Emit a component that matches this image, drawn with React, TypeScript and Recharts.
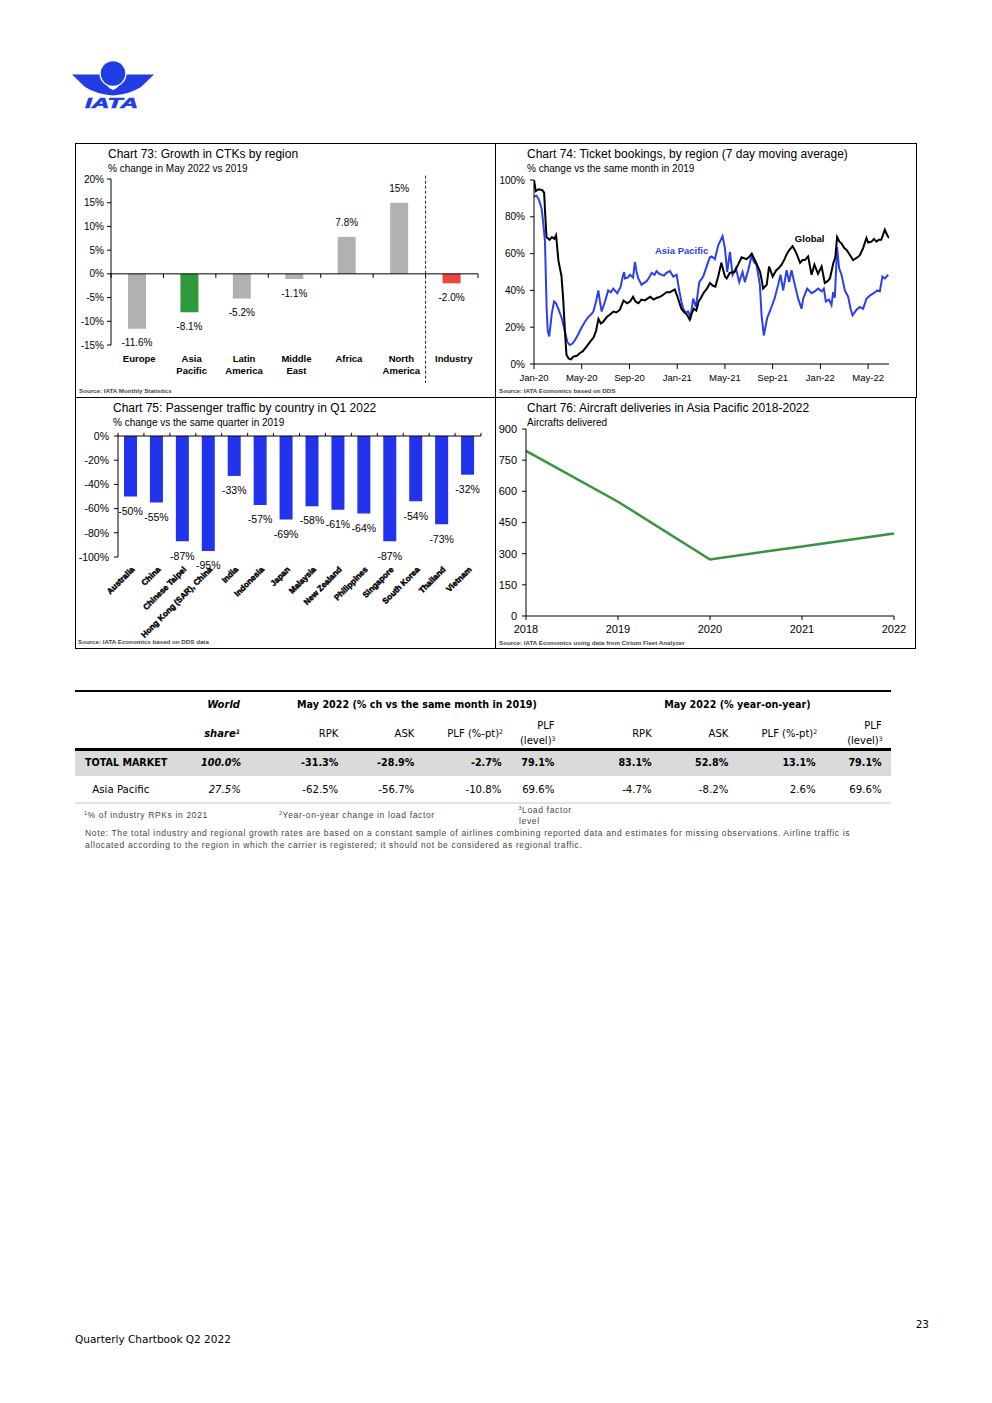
import React from 'react';
import {
  BarChart, Bar, XAxis, YAxis, Cell, LabelList, ReferenceLine, ReferenceDot, LineChart, Line,
} from 'recharts';

const SANS = '"Liberation Sans", Arial, Helvetica, sans-serif';
const DEJAVU = '"DejaVu Sans", Verdana, sans-serif';

// ---------- Chart 73: Growth in CTKs by region ----------
const ctkRegions = ['Europe', 'Asia Pacific', 'Latin America', 'Middle East', 'Africa', 'North America', 'Industry'];
const ctkGrowth = [-11.6, -8.1, -5.2, -1.1, 7.8, 15, -2.0];
const ctkLabels = ['-11.6%', '-8.1%', '-5.2%', '-1.1%', '7.8%', '15%', '-2.0%'];
const ctkTicks = [-15, -10, -5, 0, 5, 10, 15, 20];
const ctkColors = ['#b1b1b1', '#2e9a3c', '#b1b1b1', '#b1b1b1', '#b1b1b1', '#b1b1b1', '#e8473d'];

// ---------- Chart 74: Ticket bookings (months since Jan-20, % vs 2019) ----------
const bookingMonthTicks = [0, 4, 8, 12, 16, 20, 24, 28];
const bookingMonthLabels = ['Jan-20', 'May-20', 'Sep-20', 'Jan-21', 'May-21', 'Sep-21', 'Jan-22', 'May-22'];
const bookingTicks = [0, 20, 40, 60, 80, 100];
const globalBookings: [number, number][] = [
  [0, 100], [0.15, 94], [0.4, 95], [0.7, 94.5], [0.85, 93], [0.95, 80], [1.05, 69], [1.3, 67.5], [1.5, 69],
  [1.7, 68], [1.85, 70], [2.05, 56], [2.3, 48], [2.45, 35], [2.6, 17], [2.72, 5], [2.9, 3], [3.1, 2.5],
  [3.3, 4], [3.6, 4.5], [3.85, 6], [4.1, 7], [4.4, 9.5], [4.7, 12], [5.0, 14.5], [5.2, 18], [5.4, 24.5],
  [5.6, 22], [5.8, 23], [6.1, 25.5], [6.4, 27], [6.65, 28.5], [6.9, 28], [7.2, 29.5], [7.5, 34.5], [7.8, 33],
  [8.05, 34], [8.3, 36.5], [8.5, 34], [8.75, 33], [9.0, 35], [9.3, 34.5], [9.5, 35.5], [9.75, 36.5], [10.0, 35],
  [10.3, 36], [10.55, 36.5], [10.8, 37.5], [11.1, 39], [11.4, 39], [11.8, 40.5], [12.05, 36], [12.35, 30],
  [12.6, 28], [12.8, 27], [13.05, 24], [13.25, 28], [13.4, 30], [13.6, 29], [13.8, 34], [14.0, 36], [14.2, 38.5],
  [14.5, 41], [14.75, 44], [15.0, 42.5], [15.2, 42], [15.45, 48], [15.7, 55], [16.0, 47.5], [16.15, 46.5],
  [16.4, 49.5], [16.8, 50], [17.1, 54], [17.4, 58], [17.8, 57], [18.0, 58], [18.25, 60], [18.5, 56.5],
  [18.75, 53], [18.95, 50], [19.1, 45], [19.2, 41], [19.5, 43], [19.7, 53], [20.0, 47.5], [20.3, 51], [20.5, 52],
  [20.75, 54], [21.0, 57], [21.2, 60], [21.4, 62], [21.67, 64], [21.85, 62], [22.0, 60], [22.3, 55], [22.5, 56.5],
  [22.7, 56.5], [22.97, 58.5], [23.26, 48.5], [23.5, 54], [23.8, 49], [24.1, 53], [24.37, 44], [24.6, 45],
  [24.8, 46.5], [25.07, 54.5], [25.25, 58], [25.4, 69], [25.6, 66.5], [25.77, 65.5], [26.0, 63], [26.2, 62],
  [26.5, 59], [26.74, 56.5], [27.0, 57.5], [27.3, 59], [27.58, 63], [27.86, 68.5], [28.0, 66], [28.28, 66.5],
  [28.5, 68], [28.7, 66.5], [28.9, 67.5], [29.1, 67.5], [29.4, 73], [29.6, 70], [29.75, 68.5],
];
const asiaPacificBookings: [number, number][] = [
  [0, 91], [0.2, 91.5], [0.4, 89.5], [0.64, 84.5], [0.8, 75], [0.92, 66.5], [1.06, 30], [1.15, 18], [1.28, 15],
  [1.48, 27], [1.68, 34], [1.85, 33], [2.04, 30], [2.32, 25], [2.6, 17.5], [2.79, 12], [3.0, 10.3], [3.2, 11],
  [3.43, 13], [3.7, 16], [4.0, 20], [4.27, 23], [4.55, 25.5], [4.8, 27], [4.97, 28.5], [5.2, 34], [5.39, 40],
  [5.55, 33], [5.67, 28.5], [5.95, 34], [6.22, 40], [6.45, 39], [6.64, 41], [6.98, 38.5], [7.26, 42], [7.45, 48],
  [7.56, 50], [7.62, 46.5], [7.85, 47], [8.04, 48.5], [8.3, 47], [8.46, 55.5], [8.6, 50], [8.74, 46.5], [9.02, 43],
  [9.2, 44], [9.44, 45], [9.65, 47], [9.86, 49.5], [10.1, 48.5], [10.27, 50.5], [10.5, 49], [10.69, 48.5],
  [10.9, 48], [11.1, 49.5], [11.39, 50.5], [11.67, 47.5], [11.95, 48.5], [12.17, 40], [12.35, 34], [12.5, 30],
  [12.7, 28], [12.92, 28.5], [13.12, 25.5], [13.34, 35.5], [13.57, 31], [13.85, 44.5], [14.18, 47.5], [14.52, 54],
  [14.74, 58], [14.89, 58.5], [15.16, 57], [15.44, 64.5], [15.8, 69.5], [16.0, 63], [16.19, 50], [16.42, 61],
  [16.64, 48.5], [16.92, 52], [17.2, 44.5], [17.48, 50], [17.67, 44.5], [17.95, 51], [18.24, 59], [18.43, 55.5],
  [18.65, 54], [18.93, 43], [19.07, 26.5], [19.26, 15.5], [19.54, 25], [19.82, 29.5], [20.18, 36], [20.46, 43],
  [20.66, 48.5], [20.88, 40], [21.17, 51], [21.38, 44.5], [21.58, 51], [21.86, 43], [22.14, 35.5], [22.42, 30],
  [22.56, 35.5], [22.89, 41], [23.26, 38.5], [23.53, 39.5], [23.81, 41], [24.1, 39.5], [24.29, 41], [24.46, 34],
  [24.73, 35], [24.93, 32], [25.07, 39], [25.21, 36], [25.4, 63.5], [25.57, 52], [25.77, 48.5], [26.05, 40],
  [26.33, 36.5], [26.53, 30], [26.7, 26.5], [27.03, 29.5], [27.3, 31], [27.58, 30], [27.86, 35.5], [28.2, 37.5],
  [28.48, 38.5], [28.76, 40], [28.98, 39.5], [29.2, 47.5], [29.4, 46.5], [29.68, 48.5],
];
const bookingSeriesNames = ['Asia Pacific', 'Global'];
const bookingNameAnchors: [number, number][] = [[12.37, 61.6], [23.1, 67.9]];

// ---------- Chart 75: Passenger traffic by country ----------
const countries = ['Australia', 'China', 'Chinese Taipei', 'Hong Kong (SAR), China', 'India', 'Indonesia', 'Japan',
  'Malaysia', 'New Zealand', 'Philippines', 'Singapore', 'South Korea', 'Thailand', 'Vietnam'];
const countryChange = [-50, -55, -87, -95, -33, -57, -69, -58, -61, -64, -87, -54, -73, -32];
const countryLabels = ['-50%', '-55%', '-87%', '-95%', '-33%', '-57%', '-69%', '-58%', '-61%', '-64%', '-87%', '-54%', '-73%', '-32%'];
const countryTicks = [-100, -80, -60, -40, -20, 0];

// ---------- Chart 76: Aircraft deliveries ----------
const deliveryYears = ['2018', '2019', '2020', '2021', '2022'];
const deliveries = [795, 550, 272, 335, 397];
const deliveryTicks = [0, 150, 300, 450, 600, 750, 900];

// ---------- Table ----------
const tableRegions = ['TOTAL MARKET', 'Asia Pacific'];
const worldShare = ['100.0%', '27.5%'];
const vs2019 = [['-31.3%', '-28.9%', '-2.7%', '79.1%'], ['-62.5%', '-56.7%', '-10.8%', '69.6%']];
const yearOnYear = [['83.1%', '52.8%', '13.1%', '79.1%'], ['-4.7%', '-8.2%', '2.6%', '69.6%']];

// ---------- helpers ----------
type TxtProps = {
  x: number; y: number; fs: number; children: React.ReactNode; align?: 'left' | 'right' | 'center';
  bold?: boolean; italic?: boolean; color?: string; font?: string; ls?: number;
};
const Txt = ({ x, y, fs, children, align = 'left', bold, italic, color = '#000', font = SANS, ls }: TxtProps) => {
  const style: React.CSSProperties = {
    position: 'absolute', top: y - 0.49 * fs, fontSize: fs, lineHeight: `${fs}px`, whiteSpace: 'nowrap',
    fontFamily: font, fontWeight: bold ? 700 : 400, fontStyle: italic ? 'italic' : 'normal', color,
    letterSpacing: ls,
  };
  if (align === 'left') style.left = x;
  else if (align === 'right') style.right = 992 - x;
  else { style.left = x; style.transform = 'translateX(-50%)'; }
  return <div style={style}>{children}</div>;
};
const Sup = ({ children }: { children: React.ReactNode }) => (
  <span style={{ fontSize: '0.62em', verticalAlign: '0.5em', lineHeight: 0 }}>{children}</span>
);

const makeEndLabel = (fontSize: number, gap: number) => (props: any) => {
  const vb = props.viewBox && props.viewBox.width !== undefined ? props.viewBox : props;
  const x = Number(vb.x), y = Number(vb.y), w = Number(vb.width), h = Number(vb.height);
  const text = String(props.value);
  const neg = text.startsWith('-');
  const top = Math.min(y, y + h);
  const bottom = Math.max(y, y + h);
  const cy = neg ? bottom + gap : top - gap;
  return (
    <text x={x + w / 2} y={cy} dy="0.36em" textAnchor="middle" fontSize={fontSize} fill="#000" fontFamily={SANS}>
      {text}
    </text>
  );
};

const RegionTick = (props: any) => {
  const { x, y, payload } = props;
  const words = String(payload.value).split(' ');
  return (
    <text x={x} y={y} textAnchor="middle" fontSize={9.5} fontWeight={700} fill="#000" fontFamily={SANS}>
      {words.map((w, i) => (
        <tspan key={i} x={x + 2} dy={i === 0 ? 16.5 : 12.7}>{w}</tspan>
      ))}
    </text>
  );
};

const CountryTick = (props: any) => {
  const { x, y, payload } = props;
  return (
    <text x={0} y={0} transform={`translate(${x + 4},${y + 13}) rotate(-45)`} textAnchor="end"
      fontSize={8.2} fontWeight={700} fill="#000" stroke="#000" strokeWidth={0.45} fontFamily={SANS}>
      {payload.value}
    </text>
  );
};

const axisTick = (fs: number) => ({ fontSize: fs, fill: '#000', fontFamily: SANS });

// ---------- charts ----------
function Chart73() {
  const data = ctkRegions.map((r, i) => ({ region: r, value: ctkGrowth[i], label: ctkLabels[i] }));
  const last = ctkRegions[ctkRegions.length - 1];
  return (
    <BarChart width={420} height={254} data={data} margin={{ top: 36, right: 17, bottom: 22, left: 0 }}>
      <YAxis domain={[-15, 20]} ticks={ctkTicks} interval={0} tickFormatter={(v) => `${v}%`} width={36}
        stroke="#000" tickSize={4} tickMargin={3} tick={axisTick(10)} />
      <XAxis dataKey="region" axisLine={false} tickLine={false} tickSize={0} tickMargin={0} height={30}
        interval={0} tick={<RegionTick />} />
      <Bar dataKey="value" barSize={18} isAnimationActive={false}>
        {data.map((d, i) => <Cell key={d.region} fill={ctkColors[i]} />)}
        <LabelList dataKey="label" content={makeEndLabel(10, 14)} />
      </Bar>
      <ReferenceLine y={0} stroke="#000" strokeWidth={1} />
      {ctkRegions.map((c) => (
        <ReferenceLine key={c} segment={[{ x: c, y: 0 }, { x: c, y: -0.85 }]} position="start"
          ifOverflow="visible" stroke="#000" />
      ))}
      <ReferenceLine segment={[{ x: last, y: 0 }, { x: last, y: -0.85 }]} position="end"
        ifOverflow="visible" stroke="#000" />
      <ReferenceLine segment={[{ x: last, y: 20.7 }, { x: last, y: -23 }]} position="start"
        ifOverflow="visible" stroke="#222" strokeDasharray="3 2" />
    </BarChart>
  );
}

function Chart74() {
  const globalData = globalBookings.map(([m, v]) => ({ m, v }));
  const apData = asiaPacificBookings.map(([m, v]) => ({ m, v }));
  const colors = ['#2b3ff0', '#000'];
  return (
    <LineChart width={421} height={254} margin={{ top: 37, right: 27, bottom: 13, left: 0 }}>
      <XAxis dataKey="m" type="number" domain={[0, 29.75]} allowDataOverflow ticks={bookingMonthTicks} interval={0}
        tickFormatter={(v) => bookingMonthLabels[bookingMonthTicks.indexOf(v)]} height={20}
        stroke="#000" tickSize={5} tickMargin={5} tick={axisTick(9.5)} />
      <YAxis domain={[0, 100]} ticks={bookingTicks} interval={0} tickFormatter={(v) => `${v}%`} width={39}
        stroke="#000" tickSize={4} tickMargin={5} tick={axisTick(10)} />
      <Line data={apData} dataKey="v" stroke={colors[0]} strokeWidth={2} dot={false} isAnimationActive={false} />
      <Line data={globalData} dataKey="v" stroke={colors[1]} strokeWidth={2} dot={false} isAnimationActive={false} />
      {bookingSeriesNames.map((n, i) => (
        <ReferenceDot key={n} x={bookingNameAnchors[i][0]} y={bookingNameAnchors[i][1]} r={0} fill="none" stroke="none"
          ifOverflow="visible"
          label={{ value: n, position: 'center', fill: colors[i], fontSize: 9.5, fontWeight: 700, fontFamily: SANS }} />
      ))}
    </LineChart>
  );
}

function Chart75() {
  const data = countries.map((c, i) => ({ country: c, value: countryChange[i], label: countryLabels[i] }));
  const last = countries[countries.length - 1];
  return (
    <BarChart width={420} height={252} data={data} margin={{ top: 39, right: 14, bottom: 12, left: 0 }}>
      <YAxis domain={[-100, 0]} ticks={countryTicks} interval={0} tickFormatter={(v) => `${v}%`} width={43}
        stroke="#000" tickSize={4} tickMargin={5} tick={axisTick(10.5)} />
      <XAxis dataKey="country" axisLine={false} tickLine={false} tickSize={0} tickMargin={0} height={80}
        interval={0} tick={<CountryTick />} />
      <Bar dataKey="value" barSize={13} fill="#2233ee" isAnimationActive={false}>
        <LabelList dataKey="label" content={makeEndLabel(10.5, 14.5)} />
      </Bar>
      <ReferenceLine y={0} stroke="#000" />
      {countries.map((c) => (
        <ReferenceLine key={c} segment={[{ x: c, y: 0 }, { x: c, y: 2.6 }]} position="start"
          ifOverflow="visible" stroke="#000" />
      ))}
      <ReferenceLine segment={[{ x: last, y: 0 }, { x: last, y: 2.6 }]} position="end"
        ifOverflow="visible" stroke="#000" />
    </BarChart>
  );
}

function Chart76() {
  const data = deliveryYears.map((y, i) => ({ year: y, value: deliveries[i] }));
  return (
    <LineChart width={420} height={252} data={data} margin={{ top: 32, right: 21, bottom: 13, left: 0 }}>
      <XAxis dataKey="year" height={20} interval={0} stroke="#000" tickSize={4} tickMargin={5} tick={axisTick(11)} />
      <YAxis domain={[0, 900]} ticks={deliveryTicks} interval={0} width={31} stroke="#000" tickSize={4}
        tickMargin={5} tick={axisTick(11)} />
      <Line dataKey="value" stroke="#35943d" strokeWidth={2.5} dot={false} isAnimationActive={false} />
    </LineChart>
  );
}

function Logo() {
  const blue = '#1f3ce6';
  return (
    <svg style={{ position: 'absolute', left: 60, top: 50 }} width={110} height={70} viewBox="60 50 110 70">
      <path d="M72,74.5 L103,74.5 Q105,88 113,90 L113,95.5 Q97,94.5 85,87 Z" fill={blue} />
      <path d="M154,74.5 L123,74.5 Q121,88 113,90 L113,95.5 Q129,94.5 141,87 Z" fill={blue} />
      <circle cx={113} cy={73.5} r={13.6} fill="#fff" />
      <circle cx={113} cy={73.5} r={12.2} fill={blue} />
      <text x={85} y={107.5} textLength={53} lengthAdjust="spacingAndGlyphs" fontFamily={SANS} fontWeight={900}
        fontStyle="italic" fontSize={15} fill={blue} stroke={blue} strokeWidth={0.6}>IATA</text>
    </svg>
  );
}

const Abs = ({ l, t, children }: { l: number; t: number; children: React.ReactNode }) => (
  <div style={{ position: 'absolute', left: l, top: t }}>{children}</div>
);

const Box = ({ l, t, w, h }: { l: number; t: number; w: number; h: number }) => (
  <div style={{ position: 'absolute', left: l, top: t, width: w, height: h, boxSizing: 'border-box', border: '1px solid #000', pointerEvents: 'none' }} />
);

const Rule = ({ t, h, color }: { t: number; h: number; color: string }) => (
  <div style={{ position: 'absolute', left: 75, top: t, width: 816, height: h, background: color }} />
);

export default function App() {
  const c2019 = [338.3, 414.3, 501.5, 554.5];
  const cYoy = [651.7, 728.3, 815.7, 881.7];
  const rowY = [763, 789.7];
  const TF = DEJAVU;
  const noteFs = 8.5;
  const noteLs = 0.65;
  return (
    <div style={{ position: 'absolute', left: 0, top: 0, width: 992, height: 1403, background: '#fff', overflow: 'hidden', fontFamily: SANS }}>
      <Logo />

      <Abs l={75} t={143}><Chart73 /></Abs>
      <Abs l={495} t={143}><Chart74 /></Abs>
      <Abs l={75} t={397}><Chart75 /></Abs>
      <Abs l={495} t={397}><Chart76 /></Abs>

      <Box l={75} t={143} w={421} h={255} />
      <Box l={495} t={143} w={422} h={255} />
      <Box l={75} t={397} w={421} h={252} />
      <Box l={495} t={397} w={421} h={252} />

      <Txt x={108} y={154} fs={12}>Chart 73: Growth in CTKs by region</Txt>
      <Txt x={108} y={168.7} fs={10}>% change in May 2022 vs 2019</Txt>
      <Txt x={79} y={391.3} fs={6.2} bold color="#444">Source: IATA Monthly Statistics</Txt>

      <Txt x={527} y={154} fs={12}>Chart 74: Ticket bookings, by region (7 day moving average)</Txt>
      <Txt x={527} y={169} fs={10}>% change vs the same month in 2019</Txt>
      <Txt x={499} y={391.3} fs={6.2} bold color="#444">Source: IATA Economics based on DDS</Txt>

      <Txt x={113} y={408} fs={12}>Chart 75: Passenger traffic by country in Q1 2022</Txt>
      <Txt x={113} y={423} fs={10}>% change vs the same quarter in 2019</Txt>
      <Txt x={78} y={642} fs={6.2} bold color="#444">Source: IATA Economics based on DDS data</Txt>

      <Txt x={527} y={408} fs={12}>Chart 76: Aircraft deliveries in Asia Pacific 2018-2022</Txt>
      <Txt x={527} y={423} fs={10}>Aircrafts delivered</Txt>
      <Txt x={499} y={642.7} fs={6.2} bold color="#444">Source: IATA Economics using data from Cirium Fleet Analyzer</Txt>

      {/* table */}
      <Rule t={690.3} h={2} color="#000" />
      <Rule t={750.3} h={26} color="#dadada" />
      <Rule t={748} h={2.5} color="#000" />
      <Rule t={802} h={2} color="#dde3ee" />

      <Txt x={240} y={704.7} fs={10} bold italic font={TF} align="right">World</Txt>
      <Txt x={417} y={704.7} fs={9.6} bold font={TF} align="center">May 2022 (% ch vs the same month in 2019)</Txt>
      <Txt x={737.5} y={704.7} fs={9.6} bold font={TF} align="center">May 2022 (% year-on-year)</Txt>
      <Txt x={240} y={733.7} fs={10} bold italic font={TF} align="right">share<Sup>1</Sup></Txt>
      {[c2019, cYoy].map((cols, g) => (
        <React.Fragment key={g}>
          <Txt x={cols[0]} y={733.7} fs={10} font={TF} align="right">RPK</Txt>
          <Txt x={cols[1]} y={733.7} fs={10} font={TF} align="right">ASK</Txt>
          <Txt x={cols[2] + 1.5} y={733.7} fs={10} font={TF} align="right">PLF (%-pt)<Sup>2</Sup></Txt>
          <Txt x={cols[3]} y={725.8} fs={10} font={TF} align="right">PLF</Txt>
          <Txt x={cols[3] + 1} y={740.7} fs={10} font={TF} align="right">(level)<Sup>3</Sup></Txt>
        </React.Fragment>
      ))}

      {tableRegions.map((r, i) => {
        const bold = i === 0;
        return (
          <React.Fragment key={r}>
            <Txt x={bold ? 85 : 92.3} y={rowY[i]} fs={bold ? 9.6 : 10.2} bold={bold} font={TF}>{r}</Txt>
            <Txt x={241} y={rowY[i]} fs={bold ? 9.6 : 10.2} bold={bold} italic font={TF} align="right">{worldShare[i]}</Txt>
            {vs2019[i].map((v, j) => (
              <Txt key={`a${j}`} x={c2019[j]} y={rowY[i]} fs={bold ? 9.6 : 10.2} bold={bold} font={TF} align="right">{v}</Txt>
            ))}
            {yearOnYear[i].map((v, j) => (
              <Txt key={`b${j}`} x={cYoy[j]} y={rowY[i]} fs={bold ? 9.6 : 10.2} bold={bold} font={TF} align="right">{v}</Txt>
            ))}
          </React.Fragment>
        );
      })}

      <Txt x={84} y={814.7} fs={noteFs} color="#444" ls={noteLs}><Sup>1</Sup>% of industry RPKs in 2021</Txt>
      <Txt x={279} y={814.7} fs={noteFs} color="#444" ls={noteLs}><Sup>2</Sup>Year-on-year change in load factor</Txt>
      <Txt x={518.5} y={809.7} fs={noteFs} color="#444" ls={noteLs}><Sup>3</Sup>Load factor</Txt>
      <Txt x={519} y={820.7} fs={noteFs} color="#444" ls={noteLs}>level</Txt>
      <Txt x={85} y={833.5} fs={noteFs} color="#444" ls={noteLs}>Note: The total industry and regional growth rates are based on a constant sample of airlines combining reported data and estimates for missing observations. Airline traffic is</Txt>
      <Txt x={85} y={845} fs={noteFs} color="#444" ls={noteLs}>allocated according to the region in which the carrier is registered; it should not be considered as regional traffic.</Txt>

      <Txt x={929} y={1324} fs={10.5} font={TF} align="right">23</Txt>
      <Txt x={75} y={1339} fs={10.5} font={TF}>Quarterly Chartbook Q2 2022</Txt>
    </div>
  );
}
